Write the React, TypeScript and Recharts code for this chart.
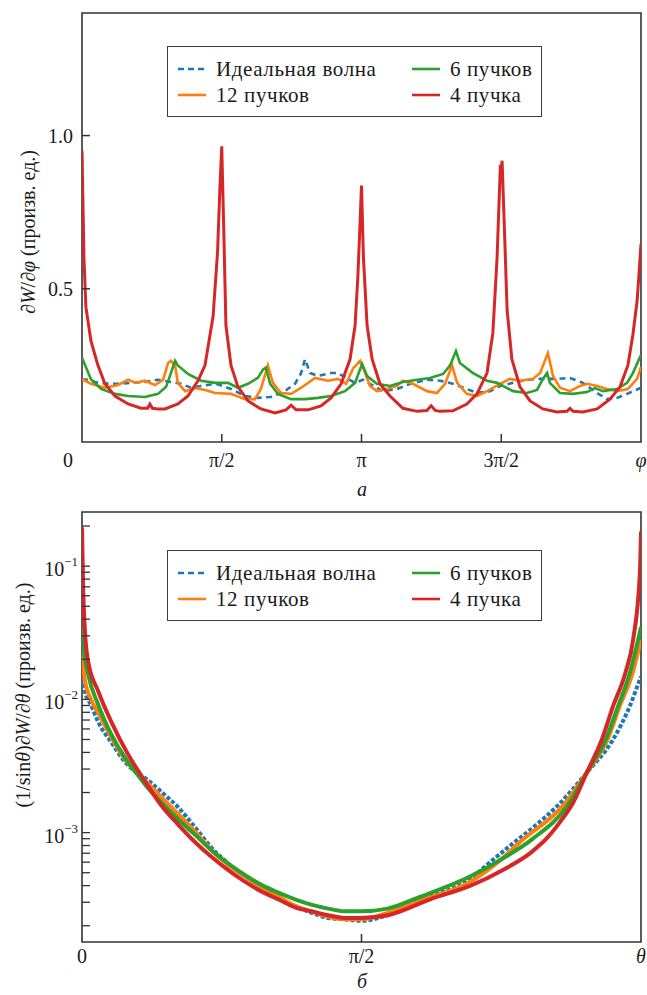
import { LineChart, Line, XAxis, YAxis, ReferenceArea, Legend } from 'recharts';

const FONT = "'Liberation Serif', 'DejaVu Serif', 'Noto Serif', 'Times New Roman', serif";
const AXIS = '#333';
const TEXT = '#1a1a1a';

// panel a: phi in units of pi
const phiTicks = [0, 0.5, 1, 1.5, 2];
const phiLabels = ['0', 'π/2', 'π', '3π/2', 'φ'];
const wTicks = [0.5, 1.0];
const wLabels = ['0.5', '1.0'];

const idealPhi = [0, 0.021, 0.057, 0.104, 0.14, 0.175, 0.225, 0.272, 0.318, 0.354, 0.39, 0.426, 0.476, 0.487, 0.533, 0.583, 0.63, 0.676, 0.726, 0.762, 0.784, 0.798, 0.816, 0.844, 0.891, 0.916, 0.945, 0.977, 1.005, 1.03, 1.077, 1.127, 1.174, 1.234, 1.281, 1.327, 1.377, 1.413, 1.46, 1.496, 1.542, 1.592, 1.639, 1.699, 1.746, 1.792, 1.843, 1.878, 1.914, 1.95, 2.0];
const idealW = [0.205, 0.203, 0.193, 0.19, 0.19, 0.193, 0.196, 0.203, 0.196, 0.19, 0.177, 0.183, 0.19, 0.188, 0.173, 0.15, 0.144, 0.147, 0.166, 0.19, 0.225, 0.27, 0.225, 0.216, 0.225, 0.225, 0.209, 0.193, 0.203, 0.19, 0.166, 0.173, 0.19, 0.203, 0.2, 0.19, 0.173, 0.16, 0.166, 0.183, 0.193, 0.203, 0.206, 0.206, 0.209, 0.193, 0.16, 0.14, 0.144, 0.157, 0.177];

const b12Phi = [0, 0.032, 0.082, 0.129, 0.165, 0.193, 0.225, 0.261, 0.29, 0.308, 0.318, 0.333, 0.343, 0.369, 0.404, 0.44, 0.476, 0.533, 0.583, 0.619, 0.64, 0.665, 0.683, 0.712, 0.748, 0.784, 0.834, 0.88, 0.916, 0.945, 0.97, 0.995, 1.013, 1.03, 1.055, 1.091, 1.127, 1.148, 1.184, 1.234, 1.27, 1.299, 1.324, 1.342, 1.377, 1.413, 1.449, 1.496, 1.531, 1.567, 1.614, 1.639, 1.667, 1.685, 1.71, 1.746, 1.782, 1.807, 1.843, 1.878, 1.914, 1.953, 1.986, 2.0];
const b12W = [0.205, 0.19, 0.177, 0.186, 0.203, 0.193, 0.2, 0.186, 0.203, 0.258, 0.265, 0.25, 0.193, 0.166, 0.176, 0.17, 0.16, 0.157, 0.14, 0.14, 0.173, 0.25, 0.193, 0.16, 0.157, 0.177, 0.209, 0.2, 0.206, 0.19, 0.24, 0.265, 0.225, 0.183, 0.166, 0.173, 0.183, 0.2, 0.19, 0.166, 0.16, 0.19, 0.25, 0.193, 0.157, 0.15, 0.166, 0.19, 0.206, 0.2, 0.206, 0.225, 0.29, 0.216, 0.177, 0.166, 0.183, 0.19, 0.183, 0.173, 0.166, 0.173, 0.206, 0.245];

const b6Phi = [0, 0.032, 0.068, 0.118, 0.165, 0.225, 0.272, 0.301, 0.318, 0.333, 0.343, 0.379, 0.426, 0.476, 0.522, 0.558, 0.594, 0.63, 0.648, 0.658, 0.673, 0.701, 0.748, 0.798, 0.844, 0.891, 0.941, 0.977, 1.002, 1.02, 1.055, 1.102, 1.148, 1.199, 1.245, 1.292, 1.317, 1.338, 1.352, 1.399, 1.449, 1.485, 1.521, 1.542, 1.592, 1.628, 1.649, 1.664, 1.674, 1.71, 1.757, 1.807, 1.835, 1.864, 1.914, 1.95, 1.971, 2.0];
const b6W = [0.275, 0.205, 0.173, 0.157, 0.15, 0.147, 0.157, 0.18, 0.225, 0.265, 0.25, 0.222, 0.2, 0.193, 0.193, 0.177, 0.19, 0.21, 0.237, 0.243, 0.19, 0.157, 0.14, 0.14, 0.144, 0.15, 0.166, 0.193, 0.255, 0.215, 0.19, 0.183, 0.196, 0.203, 0.209, 0.222, 0.25, 0.297, 0.258, 0.225, 0.2, 0.193, 0.176, 0.166, 0.16, 0.17, 0.206, 0.225, 0.193, 0.16, 0.157, 0.163, 0.176, 0.166, 0.173, 0.193, 0.225, 0.285];

const b4Phi = [0, 0.007, 0.014, 0.032, 0.057, 0.082, 0.118, 0.165, 0.211, 0.235, 0.243, 0.252, 0.272, 0.297, 0.343, 0.379, 0.415, 0.44, 0.469, 0.485, 0.493, 0.5, 0.507, 0.515, 0.533, 0.558, 0.594, 0.64, 0.691, 0.73, 0.748, 0.766, 0.809, 0.855, 0.891, 0.927, 0.959, 0.977, 0.987, 0.995, 1.0, 1.007, 1.02, 1.038, 1.066, 1.102, 1.148, 1.199, 1.234, 1.249, 1.264, 1.281, 1.327, 1.377, 1.413, 1.449, 1.47, 1.485, 1.497, 1.5, 1.503, 1.513, 1.521, 1.538, 1.567, 1.603, 1.649, 1.699, 1.735, 1.746, 1.757, 1.792, 1.843, 1.889, 1.925, 1.953, 1.971, 1.986, 1.993, 2.0];
const b4W = [0.95, 0.6, 0.44, 0.33, 0.25, 0.19, 0.15, 0.124, 0.11, 0.11, 0.124, 0.11, 0.108, 0.108, 0.124, 0.15, 0.2, 0.25, 0.41, 0.62, 0.82, 0.965, 0.7, 0.38, 0.25, 0.18, 0.134, 0.108, 0.095, 0.105, 0.12, 0.105, 0.105, 0.118, 0.144, 0.19, 0.27, 0.38, 0.54, 0.72, 0.837, 0.6, 0.38, 0.27, 0.19, 0.15, 0.11, 0.1, 0.103, 0.118, 0.103, 0.1, 0.102, 0.124, 0.157, 0.225, 0.356, 0.6, 0.905, 0.89, 0.918, 0.65, 0.43, 0.27, 0.18, 0.134, 0.108, 0.098, 0.1, 0.11, 0.1, 0.098, 0.108, 0.14, 0.18, 0.25, 0.35, 0.46, 0.55, 0.647];

// panel b: theta in units of pi, log scale values
const thetaTicks = [0, 0.5, 1];
const thetaLabels = ['0', 'π/2', 'θ'];
const logMajor = [1e-3, 1e-2, 1e-1];
const logExp = ['−3', '−2', '−1'];
const logMinor = [2e-4, 3e-4, 4e-4, 5e-4, 6e-4, 7e-4, 8e-4, 9e-4, 2e-3, 3e-3, 4e-3, 5e-3, 6e-3, 7e-3, 8e-3, 9e-3, 2e-2, 3e-2, 4e-2, 5e-2, 6e-2, 7e-2, 8e-2, 9e-2, 0.2];

const idealTheta = [0, 0.005, 0.016, 0.029, 0.052, 0.077, 0.095, 0.113, 0.141, 0.172, 0.202, 0.231, 0.261, 0.292, 0.32, 0.351, 0.381, 0.41, 0.44, 0.469, 0.499, 0.547, 0.608, 0.694, 0.73, 0.771, 0.81, 0.85, 0.903, 0.95, 0.98, 0.998, 1.0];
const idealD = [1.45e-2, 1.15e-2, 9.12e-3, 6.76e-3, 4.79e-3, 3.39e-3, 2.88e-3, 2.57e-3, 2.04e-3, 1.55e-3, 1.1e-3, 7.76e-4, 5.89e-4, 4.68e-4, 3.89e-4, 3.24e-4, 2.82e-4, 2.51e-4, 2.29e-4, 2.24e-4, 2.18e-4, 2.4e-4, 3.16e-4, 4.47e-4, 6.0e-4, 8.3e-4, 1.12e-3, 1.58e-3, 2.82e-3, 5.0e-3, 8.9e-3, 1.41e-2, 1.48e-2];

const b12Theta = [0, 0.005, 0.016, 0.029, 0.052, 0.077, 0.095, 0.113, 0.141, 0.172, 0.202, 0.231, 0.261, 0.292, 0.32, 0.351, 0.381, 0.41, 0.44, 0.469, 0.499, 0.547, 0.608, 0.694, 0.75, 0.789, 0.86, 0.903, 0.94, 0.962, 0.985, 1.0];
const b12D = [2.51e-2, 1.41e-2, 1e-2, 7.94e-3, 5.25e-3, 3.55e-3, 2.88e-3, 2.45e-3, 1.86e-3, 1.38e-3, 1.02e-3, 7.41e-4, 5.75e-4, 4.68e-4, 3.89e-4, 3.31e-4, 2.82e-4, 2.57e-4, 2.34e-4, 2.24e-4, 2.24e-4, 2.5e-4, 3.1e-4, 4.27e-4, 6.3e-4, 8.9e-4, 1.58e-3, 2.82e-3, 5.0e-3, 8.9e-3, 1.58e-2, 2.82e-2];

const b6Theta = [0, 0.002, 0.011, 0.029, 0.052, 0.082, 0.095, 0.113, 0.141, 0.172, 0.202, 0.231, 0.261, 0.292, 0.32, 0.351, 0.381, 0.41, 0.44, 0.469, 0.499, 0.547, 0.6, 0.694, 0.75, 0.805, 0.868, 0.903, 0.937, 0.959, 0.98, 0.995, 1.0];
const b6D = [3.5e-2, 2.7e-2, 1.55e-2, 9.12e-3, 5.5e-3, 3.39e-3, 2.88e-3, 2.29e-3, 1.7e-3, 1.26e-3, 9.66e-4, 7.41e-4, 5.89e-4, 4.79e-4, 4.07e-4, 3.55e-4, 3.16e-4, 2.88e-4, 2.69e-4, 2.57e-4, 2.57e-4, 2.69e-4, 3.24e-4, 4.68e-4, 6.3e-4, 8.9e-4, 1.58e-3, 2.82e-3, 5.0e-3, 8.9e-3, 1.58e-2, 2.82e-2, 3.5e-2];

const b4Theta = [0, 0.002, 0.005, 0.011, 0.029, 0.052, 0.082, 0.113, 0.141, 0.172, 0.202, 0.231, 0.261, 0.292, 0.32, 0.351, 0.381, 0.41, 0.44, 0.469, 0.499, 0.547, 0.623, 0.694, 0.753, 0.803, 0.832, 0.855, 0.878, 0.903, 0.93, 0.95, 0.972, 0.986, 0.998, 1.0];
const b4D = [0.196, 0.07, 3.4e-2, 1.93e-2, 1.15e-2, 6.84e-3, 3.89e-3, 2.42e-3, 1.62e-3, 1.15e-3, 8.51e-4, 6.61e-4, 5.25e-4, 4.27e-4, 3.63e-4, 3.16e-4, 2.75e-4, 2.57e-4, 2.4e-4, 2.29e-4, 2.29e-4, 2.4e-4, 3.16e-4, 3.98e-4, 5.25e-4, 7.08e-4, 9.12e-4, 1.2e-3, 1.66e-3, 2.82e-3, 5.0e-3, 8.9e-3, 1.58e-2, 2.82e-2, 8.9e-2, 0.182];

const pts = (xs: number[], ys: number[]) => xs.map((x, i) => ({ x, y: ys[i] }));

const series = [
  { name: 'Идеальная волна', color: '#1f77b4', dash: true },
  { name: '12 пучков', color: '#ff7f0e', dash: false },
  { name: '6 пучков', color: '#2ca02c', dash: false },
  { name: '4 пучка', color: '#d62728', dash: false },
];

const topData = [pts(idealPhi, idealW), pts(b12Phi, b12W), pts(b6Phi, b6W), pts(b4Phi, b4W)];
const botData = [pts(idealTheta, idealD), pts(b12Theta, b12D), pts(b6Theta, b6D), pts(b4Theta, b4D)];

const LegendBox = () => {
  const cols = [[series[0], series[1]], [series[2], series[3]]];
  return (
    <div style={{ width: 375, height: 71, boxSizing: 'border-box', border: '1.4px solid #3c3c3c', background: '#fff', position: 'relative', fontFamily: FONT, fontSize: 21, letterSpacing: 0.6, color: TEXT }}>
      {cols.map((col, ci) =>
        col.map((s, ri) => (
          <div key={s.name} style={{ position: 'absolute', left: ci === 0 ? 10 : 244, top: ri === 0 ? 9 : 35, height: 26, display: 'flex', alignItems: 'center', whiteSpace: 'nowrap' }}>
            <svg width={28} height={6} style={{ marginRight: 10 }}>
              <line x1={0} x2={28} y1={3} y2={3} stroke={s.color} strokeWidth={2.6} strokeDasharray={s.dash ? '6 4' : undefined} />
            </svg>
            <span>{s.name}</span>
          </div>
        ))
      )}
    </div>
  );
};

const PhiTick = ({ x, y, payload }: any) => {
  const v = payload.value;
  const i = phiTicks.indexOf(v);
  return (
    <g>
      {v > 0 && v < 2 && <line x1={x} x2={x} y1={y} y2={y - 8} stroke={AXIS} strokeWidth={1.5} />}
      <text x={v === 0 ? x - 14 : x} y={y + 25} textAnchor="middle" fontFamily={FONT} fontSize={20} fill={TEXT} fontStyle={v === 2 ? 'italic' : 'normal'}>
        {phiLabels[i]}
      </text>
    </g>
  );
};

const WTick = ({ x, y, payload }: any) => {
  const i = wTicks.indexOf(payload.value);
  return (
    <g>
      <line x1={x} x2={x + 8} y1={y} y2={y} stroke={AXIS} strokeWidth={1.5} />
      <text x={x - 9} y={y + 7} textAnchor="end" fontFamily={FONT} fontSize={20} fill={TEXT}>{wLabels[i]}</text>
    </g>
  );
};

const ThetaTick = ({ x, y, payload }: any) => {
  const v = payload.value;
  const i = thetaTicks.indexOf(v);
  return (
    <g>
      {v > 0 && v < 1 && <line x1={x} x2={x} y1={y} y2={y - 8} stroke={AXIS} strokeWidth={1.5} />}
      <text x={x} y={y + 21} textAnchor="middle" fontFamily={FONT} fontSize={20} fill={TEXT} fontStyle={v === 1 ? 'italic' : 'normal'}>
        {thetaLabels[i]}
      </text>
    </g>
  );
};

const LogTick = ({ x, y, payload }: any) => {
  const i = logMajor.indexOf(payload.value);
  return (
    <g>
      <line x1={x} x2={x + 8} y1={y} y2={y} stroke={AXIS} strokeWidth={1.3} />
      {i >= 0 && (
        <text x={x - 4} y={y + 10} textAnchor="end" fontFamily={FONT} fontSize={20} fill={TEXT}>
          <tspan>10</tspan>
          <tspan dy={-10} fontSize={13}>{logExp[i]}</tspan>
        </text>
      )}
    </g>
  );
};

export default function App() {
  return (
    <div style={{ position: 'absolute', left: 0, top: 0, width: 647, height: 995, background: '#fff' }}>
      <div style={{ position: 'absolute', left: 0, top: 0 }}>
        <LineChart width={647} height={500} margin={{ top: 13, right: 6, bottom: 28, left: 22 }}>
          <XAxis dataKey="x" type="number" domain={[0, 2]} ticks={phiTicks} tick={<PhiTick />} tickLine={false} tickSize={0} tickMargin={0} axisLine={false} height={30} allowDataOverflow />
          <YAxis type="number" domain={[0, 1.4]} ticks={wTicks} tick={<WTick />} tickLine={false} tickSize={0} tickMargin={0} axisLine={false} width={60} allowDataOverflow />
          <ReferenceArea x1={0} x2={2} y1={0} y2={1.4} fill="none" stroke={AXIS} strokeWidth={1.6} ifOverflow="visible" />
          {series.map((s, i) => (
            <Line key={s.name} data={topData[i]} dataKey="y" type="linear" stroke={s.color} strokeWidth={i === 3 ? 3 : 2.6} strokeDasharray={s.dash ? '6 4.5' : undefined} dot={false} isAnimationActive={false} />
          ))}
          <Legend layout="vertical" align="center" verticalAlign="middle" content={() => <LegendBox />} wrapperStyle={{ position: 'absolute', left: 167, top: 46, width: 375, height: 71 }} />
        </LineChart>
      </div>
      <div style={{ position: 'absolute', left: 0, top: 500 }}>
        <LineChart width={647} height={495} margin={{ top: 12, right: 6, bottom: 23, left: 22 }}>
          <XAxis dataKey="x" type="number" domain={[0, 1]} ticks={thetaTicks} tick={<ThetaTick />} tickLine={false} tickSize={0} tickMargin={0} axisLine={false} height={30} allowDataOverflow />
          <YAxis type="number" scale="log" domain={[1.51e-4, 0.255]} ticks={[...logMinor, ...logMajor].sort((a, b) => a - b)} tick={<LogTick />} tickLine={false} tickSize={0} tickMargin={0} axisLine={false} width={60} allowDataOverflow interval={0} />
          <ReferenceArea x1={0} x2={1} y1={1.51e-4} y2={0.255} fill="none" stroke={AXIS} strokeWidth={1.6} ifOverflow="visible" />
          {series.map((s, i) => (
            <Line key={s.name} data={botData[i]} dataKey="y" type="monotone" stroke={s.color} strokeWidth={4} strokeDasharray={s.dash ? '4 2' : undefined} dot={false} isAnimationActive={false} />
          ))}
          <Legend layout="vertical" align="center" verticalAlign="middle" content={() => <LegendBox />} wrapperStyle={{ position: 'absolute', left: 167, top: 50, width: 375, height: 71 }} />
        </LineChart>
      </div>
      <svg width={647} height={995} style={{ position: 'absolute', left: 0, top: 0, pointerEvents: 'none' }}>
        <text x={35} y={232} transform="rotate(-90 35 232)" textAnchor="middle" fontFamily={FONT} fontSize={20} fill={TEXT}>
          ∂<tspan fontStyle="italic">W</tspan>/∂<tspan fontStyle="italic">φ</tspan> (произв. ед.)
        </text>
        <text x={30} y={695} transform="rotate(-90 30 695)" textAnchor="middle" fontFamily={FONT} fontSize={20} fill={TEXT}>
          (1/sin<tspan fontStyle="italic">θ</tspan>)∂<tspan fontStyle="italic">W</tspan>/∂<tspan fontStyle="italic">θ</tspan> (произв. ед.)
        </text>
        <text x={362} y={496} textAnchor="middle" fontFamily={FONT} fontSize={20} fontStyle="italic" fill={TEXT}>а</text>
        <text x={362} y={988} textAnchor="middle" fontFamily={FONT} fontSize={20} fontStyle="italic" fill={TEXT}>б</text>
      </svg>
    </div>
  );
}
